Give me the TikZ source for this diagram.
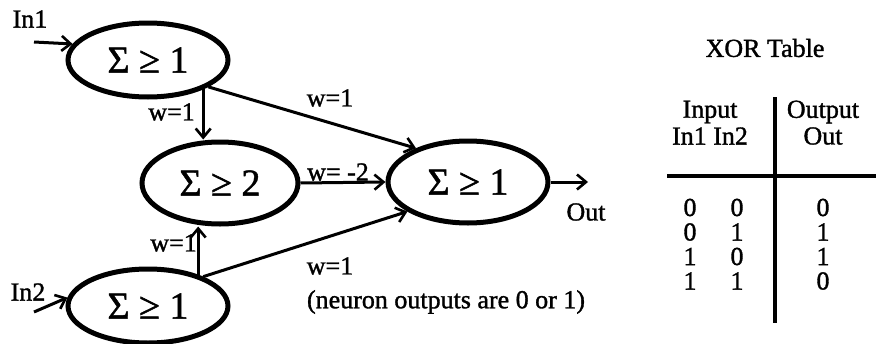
\documentclass[tikz,border=0pt]{standalone}
\usepackage{fontspec}
\setmainfont{Liberation Serif}[FakeBold=1.3]
\usetikzlibrary{positioning,arrows.meta,shapes.geometric}

\begin{document}
\begin{tikzpicture}[x=1pt, y=-1pt,
  font=\fontsize{26}{28}\selectfont, >={Straight Barb[length=9pt,width=15pt,line width=2.6pt]},
  neuron/.style={draw, ellipse, line width=5pt, minimum width=160pt, minimum height=74pt, inner sep=0pt, font=\fontsize{38}{40}\selectfont},
  link/.style={->, line width=3pt},
  wlab/.style={inner sep=1pt},
  cell/.style={inner sep=0pt},
  rule/.style={line width=3.2pt}]
\useasboundingbox (0,0) rectangle (876,343);
% neurons
\node[neuron] (n1) at (148,60) {Σ ≥ 1};
\node[neuron, minimum width=156pt, minimum height=82pt] (n2) at (220,183) {Σ ≥ 2};
\node[neuron] (n3) at (148,306) {Σ ≥ 1};
\node[neuron, minimum height=82pt] (n4) at (468,182) {Σ ≥ 1};
% inputs and output
\node (in1) at (30,19) {In1};
\coordinate (in1s) at (34,42);
\node (in2) at (28,292) {In2};
\coordinate (in2s) at (34,312);
\coordinate (outs) at (588,182);
\node (out) at (586,212) {Out};
% links
\draw[link] (in1s) -- (n1.168);
\draw[link] (in2s) -- (n3.174);
\draw[link] (n1.-28) -- (n1.-28 |- n2.north);
\draw[link] (n1.-24) -- (n4.147);
\draw[link] (n2.east) -- (n4.west);
\draw[link] (n3.32) -- (n3.32 |- n2.south);
\draw[link] (n3.28) -- (n4.-154);
\draw[link] (n4.east) -- (outs);
% weights
\node[wlab, anchor=east] (w12) at (196,112) {w=1};
\node[wlab] (w14) at (330,98) {w=1};
\node[wlab, anchor=south] (w24) at (338,182) {w= -2};
\node[wlab, anchor=east] (w32) at (198,243) {w=1};
\node[wlab] (w34) at (330,266) {w=1};
\node (note) at (446,302) {(neuron outputs are 0 or 1)};
% XOR table
\node (title) at (765,48) {XOR Table};
\node (hin) at (710,112) {Input};
\node (hin2) at (710,136) {In1 In2};
\node (hout) at (823,112) {Output};
\node (hout2) at (823,136) {Out};
\coordinate (hl) at (667,176);
\coordinate (hr) at (876,176);
\coordinate (vt) at (775,97);
\coordinate (vb) at (775,323);
\draw[rule] (hl) -- (hr);
\draw[rule] (vt) -- (vb);
\foreach \a/\b/\c [count=\i] in {0/0/0, 0/1/1, 1/0/1, 1/1/0} {
  \node[cell] (a\i) at (690,183+24.5*\i) {\a};
  \node[cell] (b\i) at (737,183+24.5*\i) {\b};
  \node[cell] (c\i) at (823,183+24.5*\i) {\c};
}
\end{tikzpicture}
\end{document}
